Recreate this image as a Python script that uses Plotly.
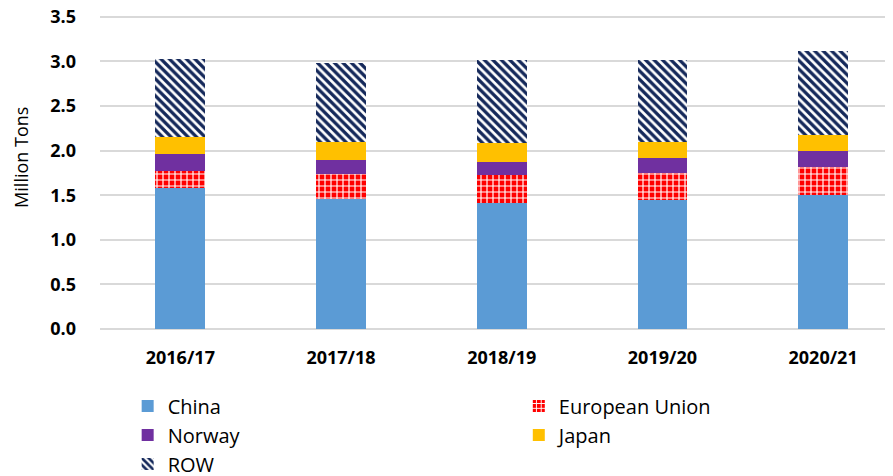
import plotly.graph_objects as go

years = ["2016/17", "2017/18", "2018/19", "2019/20", "2020/21"]
china = [1.58, 1.46, 1.415, 1.445, 1.50]
eu = [0.195, 0.28, 0.31, 0.30, 0.315]
norway = [0.19, 0.16, 0.145, 0.17, 0.175]
japan = [0.185, 0.20, 0.22, 0.185, 0.185]
row = [0.88, 0.88, 0.93, 0.92, 0.94]

FONT = "Open Sans"
BAR_W = 0.31

fig = go.Figure()
fig.add_trace(go.Bar(
    x=years, y=china, name="China", width=BAR_W, legend="legend",
    marker=dict(color="#5b9bd5", line=dict(width=0)),
))
fig.add_trace(go.Bar(
    x=years, y=eu, name="European Union", width=BAR_W, legend="legend2",
    marker=dict(color="#ff0000", line=dict(width=0),
                pattern=dict(shape="+", fgcolor="white", bgcolor="#ff0000",
                             size=6, solidity=0.35, fgopacity=1)),
))
fig.add_trace(go.Bar(
    x=years, y=norway, name="Norway", width=BAR_W, legend="legend",
    marker=dict(color="#7030a0", line=dict(width=0)),
))
fig.add_trace(go.Bar(
    x=years, y=japan, name="Japan", width=BAR_W, legend="legend2",
    marker=dict(color="#ffc000", line=dict(width=0)),
))
fig.add_trace(go.Bar(
    x=years, y=row, name="ROW", width=BAR_W, legend="legend",
    marker=dict(color="#1f3864", line=dict(width=0),
                pattern=dict(shape="\\", fgcolor="#14285a", bgcolor="white",
                             size=6, solidity=0.55, fgopacity=1)),
))

legend_common = dict(
    orientation="v", yanchor="top", xanchor="left",
    traceorder="normal",
    font=dict(family=FONT, size=20, color="#000000"),
    bgcolor="rgba(0,0,0,0)", tracegroupgap=0, itemwidth=30,
    xref="container", yref="container",
)

fig.update_layout(
    barmode="stack",
    width=893,
    height=476,
    # the page body adds 8px on the top and left, so margins are shifted
    margin=dict(l=92, r=8, t=7.2, b=155, autoexpand=False),
    plot_bgcolor="white",
    paper_bgcolor="white",
    font=dict(family=FONT, color="#000000"),
    xaxis=dict(
        range=[-0.5, 4.435],
        showgrid=False,
        tickangle=0,
        tickfont=dict(family=FONT, size=18, color="#000000", weight="bold"),
        ticks="",
        ticklabelstandoff=16,
        showline=False,
    ),
    yaxis=dict(
        range=[0, 3.52],
        tickvals=[0, 0.5, 1, 1.5, 2, 2.5, 3, 3.5],
        tickformat=".1f",
        showgrid=True,
        gridcolor="#d9d9d9",
        gridwidth=1.5,
        zeroline=True,
        zerolinecolor="#d9d9d9",
        zerolinewidth=2,
        ticklabelstandoff=23,
        ticklabeloverflow="allow",
        tickfont=dict(family=FONT, size=18, color="#000000", weight="bold"),
    ),
    annotations=[dict(
        text="Million Tons", textangle=-90, showarrow=False,
        xref="paper", yref="paper", x=-0.0996, y=0.545,
        xanchor="center", yanchor="middle",
        font=dict(family=FONT, size=18, color="#000000"),
    )],
    legend=dict(legend_common, x=0.134, y=0.205),
    legend2=dict(legend_common, x=0.572, y=0.205),
    showlegend=True,
)

fig.write_html("out.html")
